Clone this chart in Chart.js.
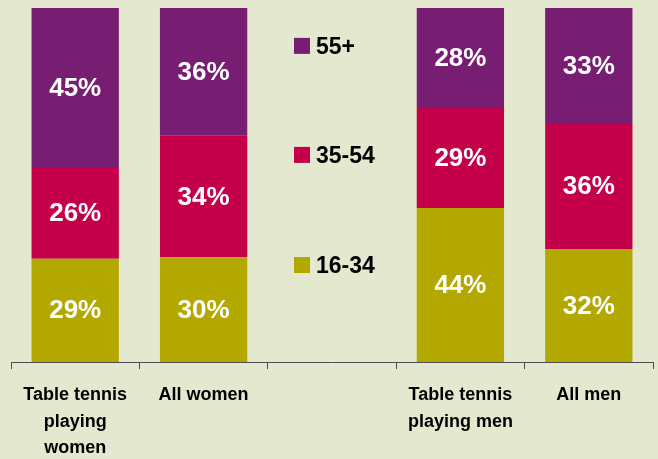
<!DOCTYPE html>
<html>
<head>
<meta charset="utf-8">
<script src="https://cdn.jsdelivr.net/npm/chart.js@4/dist/chart.umd.min.js"></script>
<style>
html,body{margin:0;padding:0;background:#e4e8ce;}
#wrap{width:658px;height:459px;position:relative;}
</style>
</head>
<body>
<div id="wrap"><canvas id="c" width="658" height="459"></canvas></div>
<script>
const categories = [
  ["Table tennis", "playing", "women"],
  ["All women"],
  [""],
  ["Table tennis", "playing men"],
  ["All men"]
];
const seriesNames = ["16-34", "35-54", "55+"];
const age16to34 = [29.2, 29.6, null, 43.5, 31.9];
const age35to54 = [25.6, 34.3, null, 28.5, 35.6];
const age55plus = [45.2, 36.1, null, 28.0, 32.5];
const seriesColors = ["#b2a800", "#c5004a", "#781e72"];

const FONT = "'Liberation Sans', Arial, Helvetica, sans-serif";

const valueLabels = {
  id: 'valueLabels',
  afterDatasetsDraw(chart) {
    const ctx = chart.ctx;
    ctx.save();
    ctx.fillStyle = '#ffffff';
    ctx.font = 'bold 26px ' + FONT;
    ctx.textAlign = 'center';
    ctx.textBaseline = 'middle';
    chart.data.datasets.forEach((ds, di) => {
      const meta = chart.getDatasetMeta(di);
      meta.data.forEach((bar, i) => {
        const v = ds.data[i];
        if (v === null || v === undefined) return;
        const yc = (bar.y + bar.base) / 2;
        ctx.fillText(Math.round(v) + '%', bar.x, yc + 1);
      });
    });
    ctx.restore();
  }
};

const middleLegend = {
  id: 'middleLegend',
  afterDraw(chart) {
    const ctx = chart.ctx;
    const xs = chart.scales.x;
    const area = chart.chartArea;
    const cx = xs.getPixelForValue(2);
    const fr = [0.107, 0.415, 0.726];
    const order = [2, 1, 0];
    ctx.save();
    ctx.font = 'bold 23px ' + FONT;
    ctx.textAlign = 'left';
    ctx.textBaseline = 'middle';
    order.forEach((di, k) => {
      const ds = chart.data.datasets[di];
      const y = area.top + fr[k] * (area.bottom - area.top);
      ctx.fillStyle = ds.backgroundColor;
      ctx.fillRect(cx - 38, y - 8, 16, 16);
      ctx.fillStyle = '#000000';
      ctx.fillText(ds.label, cx - 16, y + 1.5);
    });
    ctx.restore();
  }
};

new Chart(document.getElementById('c'), {
  type: 'bar',
  data: {
    labels: categories,
    datasets: [
      { label: seriesNames[0], data: age16to34, backgroundColor: seriesColors[0] },
      { label: seriesNames[1], data: age35to54, backgroundColor: seriesColors[1] },
      { label: seriesNames[2], data: age55plus, backgroundColor: seriesColors[2] }
    ]
  },
  options: {
    responsive: false,
    animation: false,
    devicePixelRatio: 1,
    layout: { padding: { top: 8, left: 11, right: 5, bottom: 0 } },
    datasets: { bar: { categoryPercentage: 1, barPercentage: 0.68, borderWidth: 0 } },
    plugins: {
      legend: { display: false },
      tooltip: { enabled: false },
      title: { display: false }
    },
    scales: {
      x: {
        stacked: true,
        grid: { display: true, drawOnChartArea: false, drawTicks: true, tickLength: 7, color: '#4d4d4d', lineWidth: 1, offset: true },
        border: { display: true, color: '#4d4d4d', width: 1 },
        ticks: {
          color: '#000000',
          font: { family: FONT, size: 18, weight: 'bold', lineHeight: 1.47 },
          padding: 13,
          maxRotation: 0,
          autoSkip: false
        },
        afterFit(scale) { scale.height = 97; }
      },
      y: {
        stacked: true,
        display: false,
        min: 0,
        max: 100
      }
    }
  },
  plugins: [valueLabels, middleLegend]
});
</script>
</body>
</html>
